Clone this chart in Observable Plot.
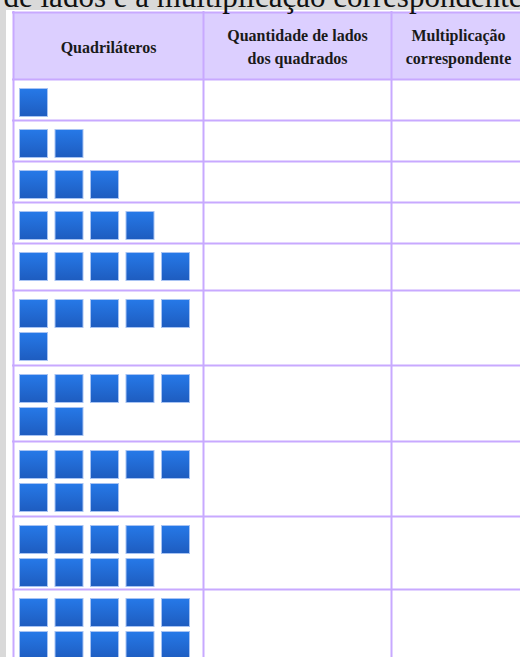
<!DOCTYPE html>
<html>
<head>
<meta charset="utf-8">
<script src="https://cdn.jsdelivr.net/npm/d3@7"></script>
<script src="https://cdn.jsdelivr.net/npm/@observablehq/plot@0.6"></script>
<style>
  html, body { margin: 0; padding: 0; background: #d9d9d9; }
  #chart svg { display: block; overflow: hidden; }
</style>
</head>
<body>
<div id="chart"></div>
<script>
// ---- data ----
const squareCounts = [1, 2, 3, 4, 5, 6, 7, 8, 9, 10];
const headerLabels = ["Quadriláteros", "Quantidade de lados\ndos quadrados", "Multiplicação\ncorrespondente"];
const titleText = "de lados e a multiplicação correspondente";

// ---- layout (not data) ----
const W = 520, H = 657;
const perLine = 5;
const tableLeft = 13, tableRight = 525, tableTop = 12, headerBottom = 79;
const colEdges = [13, 203, 391, 525];
const rowHeights = [41, 41, 41, 41, 47, 75, 76, 75, 73, 75];
const sqSize = 29, sqStepX = 35.5, sqStartX = 19, sqOffsetY = 9, sqStepY = 33;

let rowTop = headerBottom;
const rows = squareCounts.map((n, r) => {
  const row = {n, top: rowTop, bottom: rowTop + rowHeights[r]};
  rowTop = row.bottom;
  return row;
});
const squares = rows.flatMap(row => d3.range(row.n).map(i => {
  const col = i % perLine, line = Math.floor(i / perLine);
  const x1 = sqStartX + col * sqStepX, y1 = row.top + sqOffsetY + line * sqStepY;
  return {x1, x2: x1 + sqSize, y1, y2: y1 + sqSize};
}));
const hLines = [tableTop, headerBottom, ...rows.map(r => r.bottom)];
const vLines = colEdges.slice(0, 3);
const headers = headerLabels.map((label, i) => ({label, x: (colEdges[i] + colEdges[i + 1]) / 2, y: 45}));

const border = "#c8a9ff";

const defs = () => {
  const g = d3.create("svg:g");
  const lg = g.append("defs").append("linearGradient")
    .attr("id", "sqgrad").attr("x1", 0).attr("y1", 0).attr("x2", 0).attr("y2", 1);
  lg.append("stop").attr("offset", "0%").attr("stop-color", "#2679e8");
  lg.append("stop").attr("offset", "100%").attr("stop-color", "#1e5cbf");
  return g.node();
};

const chart = Plot.plot({
  width: W,
  height: H,
  margin: 0,
  x: {domain: [0, W], range: [0, W], axis: null},
  y: {domain: [0, H], range: [0, H], axis: null},
  style: {background: "#d9d9d9", fontFamily: "'Liberation Serif', 'Times New Roman', serif"},
  marks: [
    defs,
    Plot.rect([{x1: 6, x2: W + 10, y1: 10, y2: H + 10}], {x1: "x1", x2: "x2", y1: "y1", y2: "y2", fill: "white"}),
    Plot.rect([{x1: tableLeft, x2: tableRight, y1: tableTop, y2: headerBottom}], {x1: "x1", x2: "x2", y1: "y1", y2: "y2", fill: "#dccfff"}),
    Plot.rect(squares, {x1: "x1", x2: "x2", y1: "y1", y2: "y2", fill: "url(#sqgrad)", stroke: "#a7c3f3", strokeWidth: 1, inset: 0.5}),
    Plot.ruleY(hLines, {y: d => d, x1: tableLeft - 1, x2: tableRight, stroke: border, strokeWidth: 2}),
    Plot.ruleX(vLines, {x: d => d, y1: tableTop - 1, y2: H + 5, stroke: border, strokeWidth: 2}),
    Plot.text(headers, {x: "x", y: "y", text: "label", fontSize: 16, fontWeight: "bold", lineHeight: 1.4, fill: "#1a1a1a", lineAnchor: "middle"}),
    Plot.text([titleText], {x: 3, y: 6, text: d => d, fontSize: 31, textAnchor: "start", lineAnchor: "bottom", fill: "#111"})
  ]
});
document.getElementById("chart").appendChild(chart);
</script>
</body>
</html>
